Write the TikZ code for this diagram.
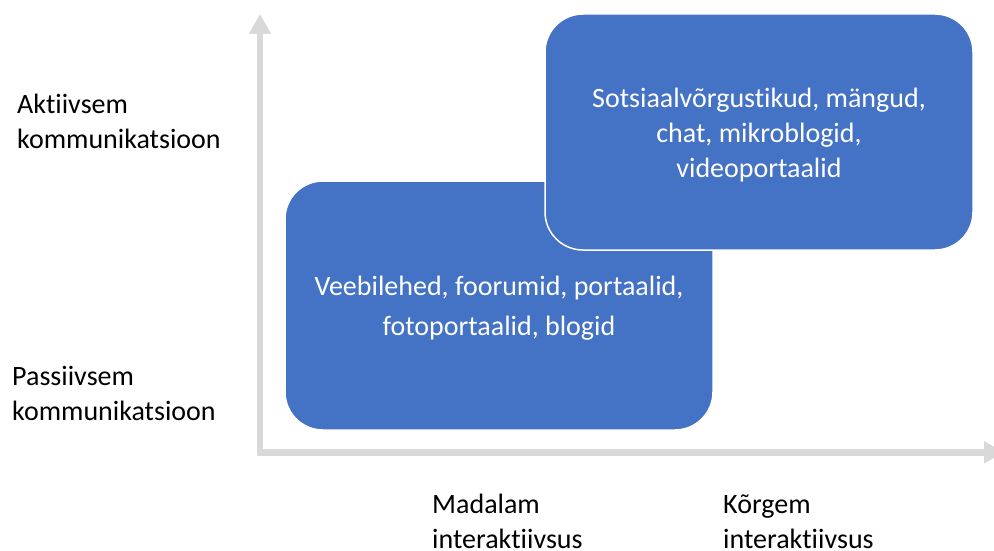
\documentclass[tikz,border=0pt]{standalone}
\usepackage{fontspec}
\setmainfont{Carlito}[Ligatures=NoCommon]
\usetikzlibrary{arrows.meta}
\definecolor{boxblue}{HTML}{4472C4}
\definecolor{axisgray}{HTML}{D9D9D9}
\begin{document}
\begin{tikzpicture}[x=1pt,y=-1pt,
  axis/.style={draw=axisgray,line width=6.7pt,-{Triangle[width=21pt,length=20pt]}},
  bluebox/.style={rectangle,rounded corners=38pt,fill=boxblue,draw=white,line width=1.5pt,
    text=white,align=center,inner sep=0pt},
  lbl/.style={anchor=base west,align=left,inner sep=0pt,font=\fontsize{28}{35}\selectfont}]
\useasboundingbox (0,0) rectangle (994,551);
\coordinate (o1) at (260,455);
\coordinate (ytop) at (260,14);
\coordinate (o2) at (257,452.3);
\coordinate (xend) at (1004,452.3);
\draw[axis] (o1) -- (ytop);
\draw[axis] (o2) -- (xend);
\node[bluebox,minimum width=428pt,minimum height=249pt] (b1) at (499,305.5) {};
\node[text=white,align=center,font=\fontsize{28}{40}\selectfont,yshift=-3pt]
  (t1) at (b1.center) {Veebilehed, foorumid, portaalid,\\fotoportaalid, blogid};
\node[bluebox,minimum width=428pt,minimum height=236pt] (b2) at (759,132) {};
\node[text=white,align=center,font=\fontsize{28}{35}\selectfont,yshift=-3pt]
  (t2) at (b2.center) {Sotsiaalvõrgustikud, mängud,\\chat, mikroblogid,\\videoportaalid};
\node[lbl] (act) at (17,148) {Aktiivsem\\kommunikatsioon};
\node[lbl] (pas) at (12,420) {Passiivsem\\kommunikatsioon};
\node[lbl] (low) at (432,548) {Madalam\\interaktiivsus};
\node[lbl] (high) at (723,548) {Kõrgem\\interaktiivsus};
\end{tikzpicture}
\end{document}
